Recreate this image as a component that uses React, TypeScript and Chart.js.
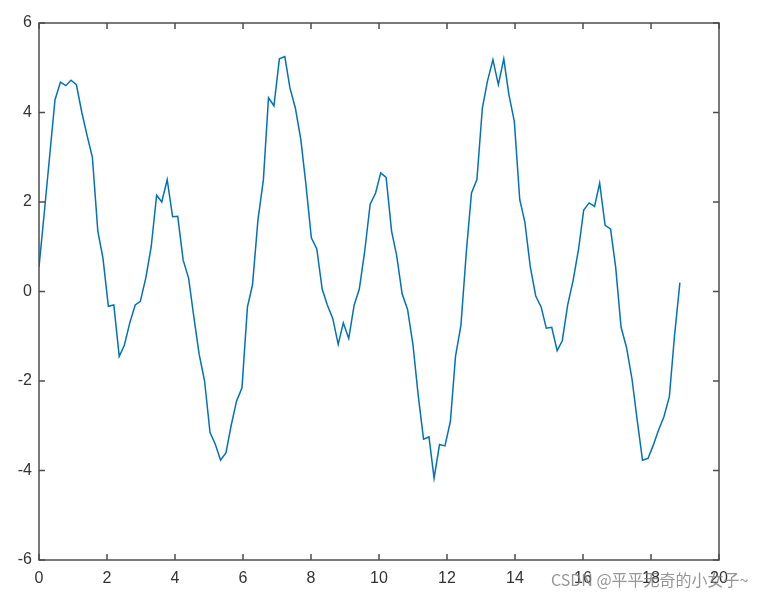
import React, { useEffect, useRef } from "react";
import { Chart, registerables } from "chart.js";

Chart.register(...registerables);

const xValues = [
  0, 0.16, 0.31, 0.47, 0.63, 0.79, 0.94, 1.1, 1.26, 1.41,
  1.57, 1.73, 1.88, 2.04, 2.2, 2.36, 2.51, 2.67, 2.83, 2.98,
  3.14, 3.3, 3.46, 3.61, 3.77, 3.93, 4.08, 4.24, 4.4, 4.56,
  4.71, 4.87, 5.03, 5.18, 5.34, 5.5, 5.65, 5.81, 5.97, 6.13,
  6.28, 6.44, 6.6, 6.75, 6.91, 7.07, 7.23, 7.38, 7.54, 7.7,
  7.85, 8.01, 8.17, 8.33, 8.48, 8.64, 8.8, 8.95, 9.11, 9.27,
  9.42, 9.58, 9.74, 9.9, 10.05, 10.21, 10.37, 10.52, 10.68, 10.84,
  11.0, 11.15, 11.31, 11.47, 11.62, 11.78, 11.94, 12.1, 12.25, 12.41,
  12.57, 12.72, 12.88, 13.04, 13.19, 13.35, 13.51, 13.67, 13.82, 13.98,
  14.14, 14.29, 14.45, 14.61, 14.77, 14.92, 15.08, 15.24, 15.39, 15.55,
  15.71, 15.87, 16.02, 16.18, 16.34, 16.49, 16.65, 16.81, 16.96, 17.12,
  17.28, 17.44, 17.59, 17.75, 17.91, 18.06, 18.22, 18.38, 18.54, 18.69,
  18.85,
];

const yValues = [
  0.55, 1.8, 3.0, 4.28, 4.68, 4.6, 4.72, 4.62, 4.0, 3.5,
  3.0, 1.35, 0.75, -0.33, -0.3, -1.45, -1.2, -0.7, -0.3, -0.22,
  0.3, 1.0, 2.15, 2.0, 2.5, 1.67, 1.68, 0.7, 0.3, -0.6,
  -1.4, -2.0, -3.15, -3.4, -3.77, -3.6, -3.0, -2.45, -2.15, -0.35,
  0.15, 1.6, 2.5, 4.33, 4.15, 5.2, 5.25, 4.55, 4.1, 3.4,
  2.4, 1.2, 0.95, 0.05, -0.3, -0.6, -1.18, -0.7, -1.05, -0.3,
  0.05, 0.9, 1.95, 2.2, 2.65, 2.55, 1.35, 0.8, -0.05, -0.4,
  -1.2, -2.3, -3.3, -3.25, -4.17, -3.42, -3.45, -2.9, -1.45, -0.75,
  0.9, 2.2, 2.5, 4.1, 4.7, 5.18, 4.62, 5.2, 4.4, 3.8,
  2.05, 1.55, 0.55, -0.1, -0.35, -0.82, -0.8, -1.32, -1.1, -0.3,
  0.25, 0.95, 1.82, 1.98, 1.9, 2.42, 1.48, 1.4, 0.55, -0.8,
  -1.25, -1.95, -2.85, -3.77, -3.73, -3.45, -3.1, -2.8, -2.35, -1.0,
  0.2,
];

const xRange = [0, 20];
const yRange = [-6, 6];
const tickStep = 2;
const watermark = "CSDN @平平无奇的小女子~";

const axisColor = "#4d4d4d";
const labelColor = "#333333";

const boxPlugin = {
  id: "matlabBox",
  afterDraw(chart: any) {
    const { ctx, chartArea } = chart;
    const { left, right, top, bottom } = chartArea;
    const xs = chart.scales.x;
    const ys = chart.scales.y;
    const tl = 6;
    ctx.save();
    ctx.strokeStyle = axisColor;
    ctx.lineWidth = 1.5;
    ctx.strokeRect(left, top, right - left, bottom - top);
    ctx.beginPath();
    xs.ticks.forEach((t: any) => {
      const px = xs.getPixelForValue(t.value);
      ctx.moveTo(px, bottom);
      ctx.lineTo(px, bottom - tl);
      ctx.moveTo(px, top);
      ctx.lineTo(px, top + tl);
    });
    ys.ticks.forEach((t: any) => {
      const py = ys.getPixelForValue(t.value);
      ctx.moveTo(left, py);
      ctx.lineTo(left + tl, py);
      ctx.moveTo(right, py);
      ctx.lineTo(right - tl, py);
    });
    ctx.stroke();
    ctx.font = '16px "Noto Sans CJK SC", "Noto Sans", sans-serif';
    ctx.fillStyle = "rgba(130,130,130,0.85)";
    ctx.textBaseline = "middle";
    ctx.textAlign = "left";
    ctx.fillText(watermark, 551, 580);
    ctx.restore();
  },
};

export default function App() {
  const ref = useRef<HTMLCanvasElement | null>(null);
  useEffect(() => {
    if (!ref.current) return;
    const chart = new Chart(ref.current, {
      type: "line",
      data: {
        datasets: [
          {
            data: xValues.map((x, i) => ({ x, y: yValues[i] })),
            borderColor: "#0072BD",
            borderWidth: 1.5,
            pointRadius: 0,
            tension: 0,
            fill: false,
          },
        ],
      },
      options: {
        responsive: false,
        animation: false,
        devicePixelRatio: 1,
        layout: { padding: { left: 0, right: 44, top: 23, bottom: 0 } },
        plugins: { legend: { display: false }, tooltip: { enabled: false } },
        scales: {
          x: {
            type: "linear",
            min: xRange[0],
            max: xRange[1],
            grid: { display: false, drawTicks: false },
            border: { display: false },
            ticks: {
              stepSize: tickStep,
              padding: 9,
              color: labelColor,
              font: { family: '"Liberation Sans", Arial, sans-serif', size: 16 },
              maxRotation: 0,
            },
            afterFit(scale: any) {
              scale.height = 38;
            },
          },
          y: {
            type: "linear",
            min: yRange[0],
            max: yRange[1],
            grid: { display: false, drawTicks: false },
            border: { display: false },
            ticks: {
              stepSize: tickStep,
              padding: 7,
              color: labelColor,
              font: { family: '"Liberation Sans", Arial, sans-serif', size: 16 },
            },
            afterFit(scale: any) {
              scale.width = 39;
            },
          },
        },
      },
      plugins: [boxPlugin],
    });
    return () => chart.destroy();
  }, []);
  return (
    <div style={{ position: "absolute", left: 0, top: 0, width: 763, height: 598, background: "#fff" }}>
      <canvas ref={ref} width={763} height={598} />
    </div>
  );
}
